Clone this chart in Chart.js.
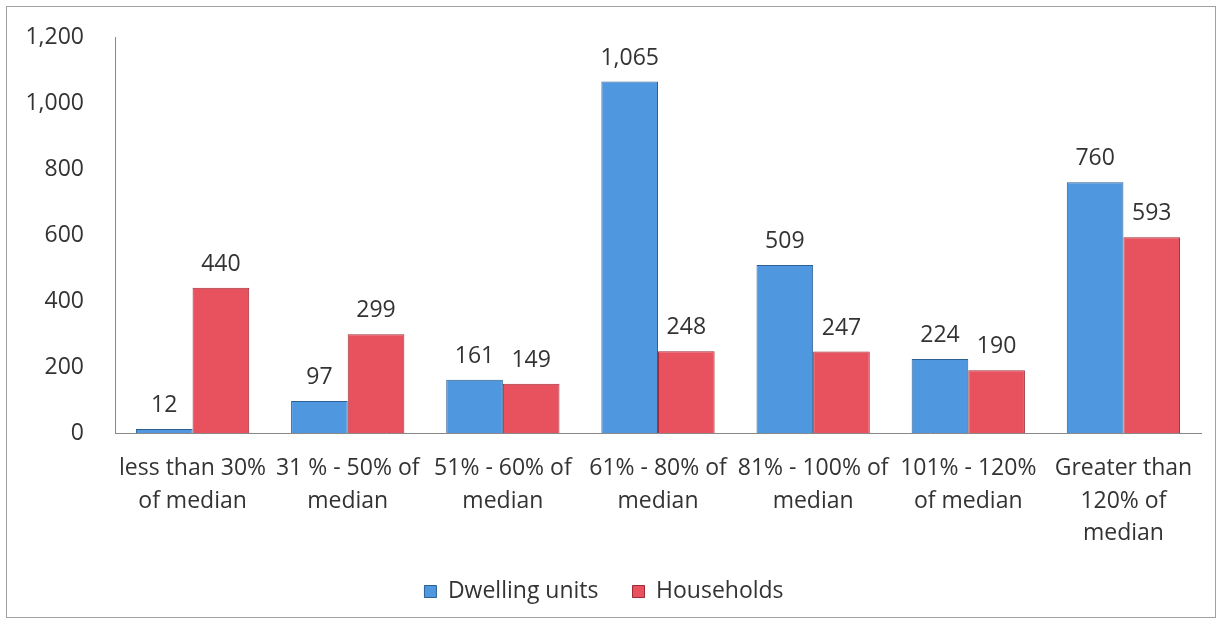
<!DOCTYPE html>
<html>
<head>
<meta charset="utf-8">
<script src="https://cdn.jsdelivr.net/npm/chart.js@4/dist/chart.umd.min.js"></script>
<style>
    body { margin: 0; background: #fff; }
    #marco {
        position: absolute; left: 6px; top: 6px;
        width: 1210px; height: 612px;
        border: 1px solid #a0a0a0;
        box-sizing: border-box;
    }
</style>
</head>
<body>
<div id="marco"><canvas id="chartIngresos"></canvas></div>
<script>
// Datos del gráfico
const categorias = [
    ['less than 30%', 'of median'],
    ['31 % - 50% of', 'median'],
    ['51% - 60% of', 'median'],
    ['61% - 80% of', 'median'],
    ['81% - 100% of', 'median'],
    ['101% - 120%', 'of median'],
    ['Greater than', '120% of', 'median']
];
const viviendas = [12, 97, 161, 1065, 509, 224, 760];
const hogares = [440, 299, 149, 248, 247, 190, 593];
const ticksY = [0, 200, 400, 600, 800, 1000, 1200];

const fuente = "'Open Sans', 'DejaVu Sans', sans-serif";
const colorTexto = '#333333';

// Etiquetas de valor encima de cada barra
const etiquetasValor = {
    id: 'etiquetasValor',
    afterDatasetsDraw(chart) {
        const ctx = chart.ctx;
        ctx.save();
        ctx.font = '23px ' + fuente;
        ctx.fillStyle = colorTexto;
        ctx.textAlign = 'center';
        ctx.textBaseline = 'bottom';
        chart.data.datasets.forEach((ds, i) => {
            chart.getDatasetMeta(i).data.forEach((bar, j) => {
                ctx.fillText(ds.data[j].toLocaleString('en-US'), bar.x, bar.y - 12);
            });
        });
        ctx.restore();
    }
};

const ctxIngresos = document.getElementById('chartIngresos').getContext('2d');
new Chart(ctxIngresos, {
    type: 'bar',
    data: {
        labels: categorias,
        datasets: [{
            label: 'Dwelling units',
            data: viviendas,
            backgroundColor: '#4f97de',
            borderColor: '#2d5f92',
            borderWidth: 1
        }, {
            label: 'Households',
            data: hogares,
            backgroundColor: '#e8525e',
            borderColor: '#9e2a35',
            borderWidth: 1
        }]
    },
    options: {
        responsive: true,
        maintainAspectRatio: false,
        animation: false,
        layout: { padding: { top: 30, right: 14, left: 0, bottom: 4 } },
        datasets: {
            bar: { categoryPercentage: 0.73, barPercentage: 1.0 }
        },
        plugins: {
            legend: {
                position: 'bottom',
                labels: {
                    boxWidth: 12,
                    boxHeight: 12,
                    padding: 34,
                    color: colorTexto,
                    font: { size: 23, family: fuente }
                }
            },
            tooltip: { enabled: false }
        },
        scales: {
            x: {
                afterFit: (axis) => { axis.height = 113; },
                grid: { display: false, drawTicks: false },
                border: { display: true, color: '#888888' },
                ticks: {
                    color: colorTexto,
                    padding: 19,
                    maxRotation: 0,
                    autoSkip: false,
                    font: { size: 23, family: fuente, lineHeight: 1.42 }
                }
            },
            y: {
                min: 0,
                max: 1200,
                afterBuildTicks: (axis) => { axis.ticks = ticksY.map(v => ({ value: v })); },
                afterFit: (axis) => {
                    axis.width = 108;
                    axis.paddingTop = 0;
                    axis.paddingBottom = 0;
                },
                grid: { display: false, drawTicks: false },
                border: { display: true, color: '#888888' },
                ticks: {
                    color: colorTexto,
                    padding: 31,
                    font: { size: 23, family: fuente },
                    callback: (v) => v.toLocaleString('en-US')
                }
            }
        }
    },
    plugins: [etiquetasValor]
});
</script>
</body>
</html>
